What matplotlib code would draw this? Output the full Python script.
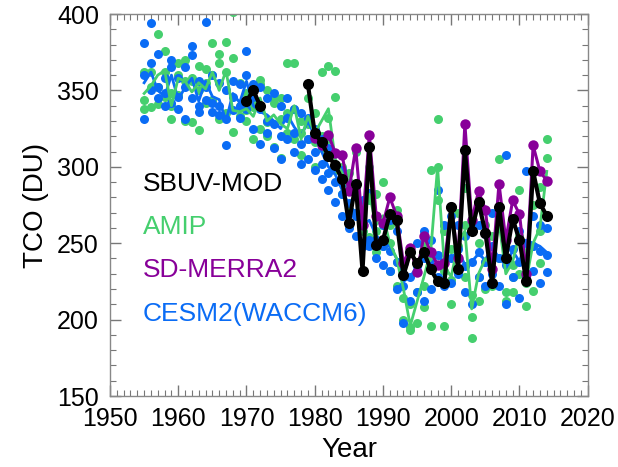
import matplotlib.pyplot as plt
from matplotlib.ticker import MultipleLocator
import numpy as np

plt.rcParams['font.family'] = ['Liberation Sans', 'DejaVu Sans']

green = '#45cf6e'
blue = '#0a6cf5'
purple = '#880099'

years = np.arange(1955, 2015)

# AMIP ensemble members and mean
amip_m1 = [362, 362, 387, 376, 340, 368, 370, 329, 366, 364, 381, 374, 382, 401, 355, 348, 318, 354, 350, 313,
           306, 368, 368, 330, 345, 335, 362, 366, 363, 300, 296, 310, 276, 300, 282, 290, 262, 272, 238, 210,
           232, 208, 298, 331, 258, 246, 270, 286, 216, 250, 262, 222, 305, 252, 228, 285, 244, 275, 287, 318]
amip_m2 = [344, 339, 341, 362, 331, 347, 330, 356, 324, 342, 360, 368, 335, 371, 333, 337, 342, 325, 329, 342,
           331, 322, 338, 308, 328, 316, 320, 332, 346, 282, 290, 270, 262, 278, 258, 262, 250, 238, 214, 195,
           218, 250, 240, 300, 232, 226, 248, 262, 202, 228, 238, 255, 262, 218, 236, 255, 224, 248, 258, 306]
amip_m3 = [338, 352, 352, 346, 348, 360, 356, 358, 350, 355, 344, 331, 362, 323, 340, 330, 339, 357, 320, 346,
           345, 335, 318, 322, 318, 300, 312, 318, 298, 292, 272, 282, 258, 254, 244, 248, 232, 222, 200, 193,
           198, 222, 196, 278, 196, 210, 232, 228, 188, 212, 220, 240, 240, 212, 218, 230, 209, 219, 237, 268]
amip_mean = [348, 353, 360, 363, 340, 358, 356, 349, 355, 351, 362, 350, 363, 337, 336, 338, 333, 345, 330, 334,
             328, 325, 340, 318, 333, 322, 330, 338, 305, 296, 285, 290, 270, 282, 262, 268, 250, 240, 220, 196,
             212, 228, 245, 300, 235, 228, 250, 258, 207, 230, 240, 235, 264, 230, 238, 256, 226, 250, 260, 297]

# CESM2(WACCM6) ensemble members and mean
cesm_m1 = [381, 394, 374, 358, 370, 358, 365, 379, 356, 395, 360, 355, 350, 356, 354, 376, 354, 352, 345, 348,
           340, 345, 338, 335, 332, 325, 318, 312, 277, 298, 288, 270, 278, 283, 268, 262, 265, 258, 238, 245,
           250, 258, 252, 285, 262, 268, 262, 255, 258, 262, 256, 270, 260, 308, 265, 258, 297, 268, 262, 260]
cesm_m2 = [360, 368, 352, 348, 365, 346, 331, 373, 340, 352, 342, 340, 331, 346, 340, 360, 346, 338, 330, 328,
           320, 332, 322, 315, 318, 310, 302, 296, 290, 282, 260, 268, 262, 248, 252, 248, 245, 238, 222, 228,
           235, 240, 235, 242, 238, 240, 246, 235, 238, 244, 238, 248, 240, 236, 246, 238, 250, 248, 245, 242]
cesm_m3 = [331, 350, 345, 340, 342, 338, 352, 345, 336, 344, 336, 334, 314, 337, 332, 338, 325, 315, 322, 312,
           305, 318, 310, 302, 305, 298, 292, 285, 300, 268, 276, 255, 248, 252, 240, 236, 232, 220, 198, 212,
           218, 212, 220, 228, 222, 224, 230, 218, 210, 228, 222, 230, 222, 210, 228, 214, 228, 232, 224, 231]
cesm_mean = [355, 362, 350, 346, 360, 344, 352, 358, 343, 356, 346, 344, 330, 348, 342, 356, 340, 336, 334, 330,
             325, 334, 326, 320, 330, 320, 310, 300, 295, 285, 275, 270, 262, 265, 255, 250, 248, 240, 225, 228,
             235, 240, 236, 242, 237, 240, 245, 236, 238, 243, 239, 248, 240, 236, 245, 238, 252, 250, 248, 244]

# SD-MERRA2
merra_years = np.arange(1980, 2015)
merra = [319, 314, 321, 309, 308, 284, 312, 262, 321, 268, 263, 280, 268, 237, 247, 231, 255, 244, 236, 237,
         274, 240, 328, 265, 284, 272, 233, 289, 252, 278, 269, 230, 314, 297, 291]

# SBUV-MOD
sbuv_years_a = [1970, 1971, 1972]
sbuv_a = [343, 350, 340]
sbuv_years_b = np.arange(1979, 2015)
sbuv_b = [354, 322, 316, 307, 301, 292, 263, 289, 232, 313, 249, 252, 269, 265, 229, 244, 237, 244, 233, 225,
          224, 274, 233, 311, 258, 277, 257, 224, 274, 240, 266, 252, 225, 297, 276, 268]

fig = plt.figure(figsize=(6.18, 4.67), dpi=100)
ax = fig.add_axes([0.178, 0.152, 0.773, 0.818])

for m in (amip_m1, amip_m2, amip_m3):
    ax.plot(years, m, 'o', color=green, ms=6.5, mew=0, zorder=2)
for m in (cesm_m1, cesm_m2, cesm_m3):
    ax.plot(years, m, 'o', color=blue, ms=6.5, mew=0, zorder=2)
ax.plot(years, cesm_mean, '-', color=blue, lw=2, zorder=3)
ax.plot(years, amip_mean, '-', color=green, lw=2, zorder=3)
ax.plot(merra_years, merra, '-o', color=purple, lw=2.2, ms=7.5, mew=0, zorder=4)
ax.plot(sbuv_years_a, sbuv_a, '-o', color='black', lw=3, ms=8, mew=0, zorder=5)
ax.plot(sbuv_years_b, sbuv_b, '-o', color='black', lw=3, ms=8, mew=0, zorder=5)

ax.set_xlim(1950, 2020)
ax.set_ylim(150, 400)
ax.xaxis.set_major_locator(MultipleLocator(10))
ax.xaxis.set_minor_locator(MultipleLocator(1))
ax.yaxis.set_major_locator(MultipleLocator(50))
ax.yaxis.set_minor_locator(MultipleLocator(10))
ax.tick_params(which='both', direction='in', top=True, right=True, color='#777777', labelsize=18, pad=8)
ax.tick_params(which='major', length=8, width=1)
ax.tick_params(which='minor', length=4, width=0.8)
for s in ax.spines.values():
    s.set_color('#888888')
    s.set_linewidth(1)

ax.set_xlabel('Year', fontsize=20, labelpad=4)
ax.set_ylabel('TCO (DU)', fontsize=20, labelpad=6)

labels = ['SBUV-MOD', 'AMIP', 'SD-MERRA2', 'CESM2(WACCM6)']
colors = ['black', green, purple, blue]
for i, (lab, c) in enumerate(zip(labels, colors)):
    ax.text(0.068, 0.555 - i * 0.113, lab, color=c, fontsize=19, transform=ax.transAxes, va='center', ha='left')

fig.savefig('out.png', dpi=100)
